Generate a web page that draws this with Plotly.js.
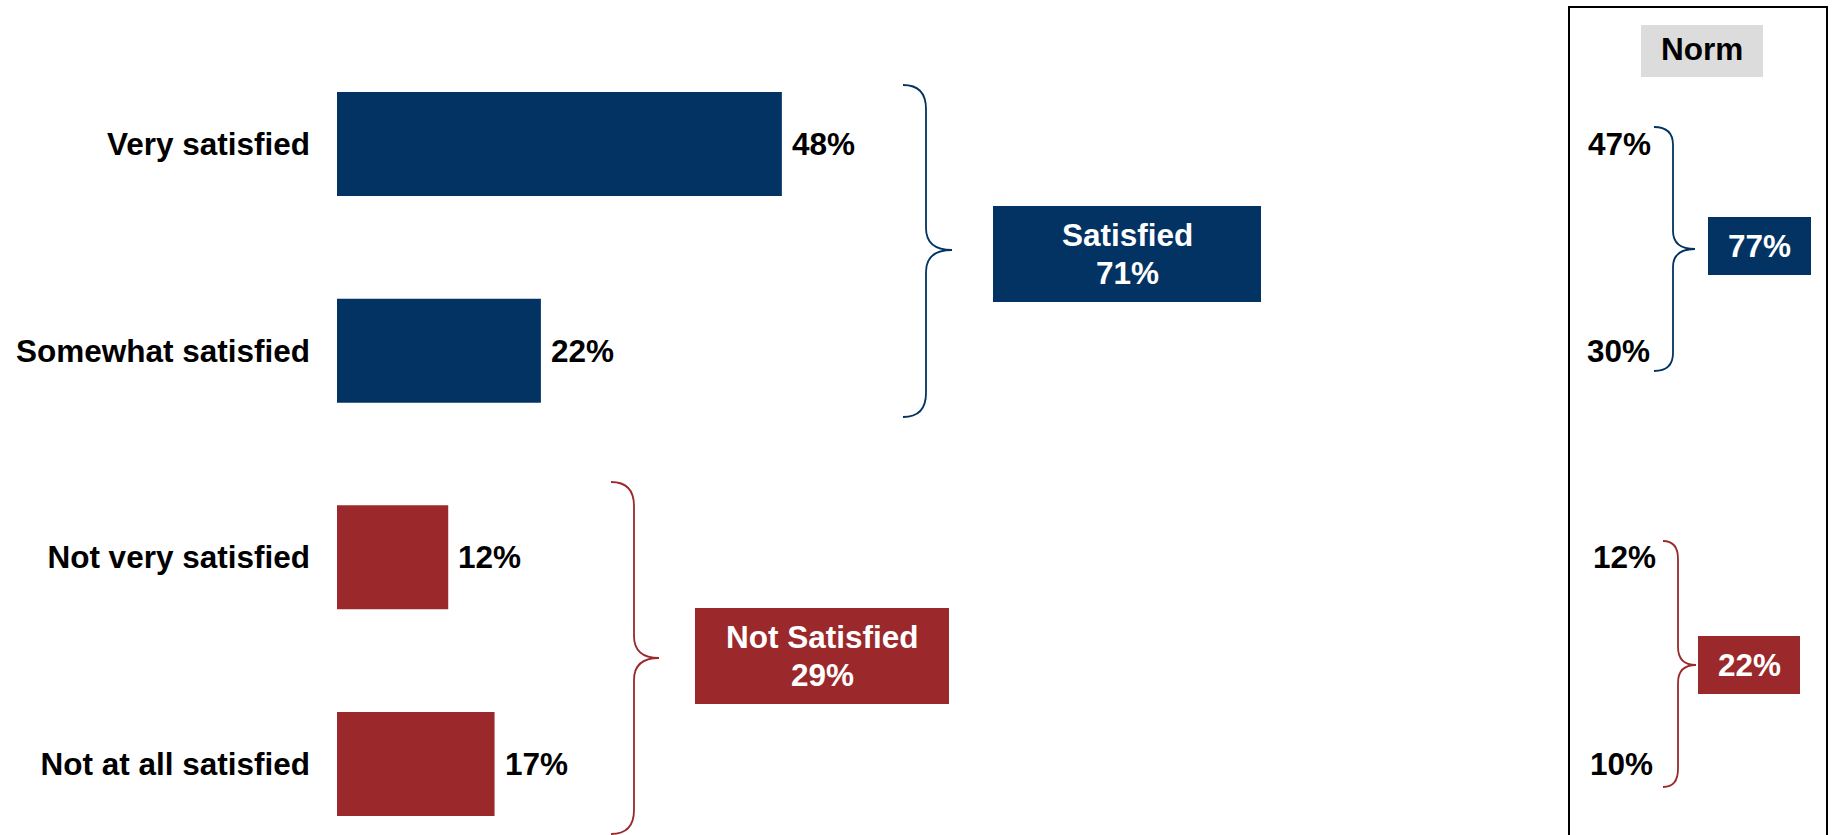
<!DOCTYPE html>
<html>
<head>
<meta charset="utf-8">
<script src="https://cdn.plot.ly/plotly-3.0.1.min.js"></script>
<style>html,body{margin:0;padding:0;background:#fff;}#chart{width:1833px;height:835px;}</style>
</head>
<body>
<div id="chart"></div>
<script>
// ---- data ----
const categories = ['Very satisfied', 'Somewhat satisfied', 'Not very satisfied', 'Not at all satisfied'];
const values = [48, 22, 12, 17];
const groupOf = [0, 0, 1, 1];
const groupNames = ['Satisfied', 'Not Satisfied'];
const groupTotals = [71, 29];
const normValues = [47, 30, 12, 10];
const normTotals = [77, 22];
const normLabel = 'Norm';

// ---- styles ----
const W = 1833, H = 835;
const BLUE = '#033363', RED = '#9B292B';
const palette = [BLUE, RED];
const FONT = 'Liberation Sans, Arial, Helvetica, sans-serif';
const FS = 31.5;
const L = 337;             // left margin (bar origin in px)
const PXPCT = 9.268;       // px per percent
const CY0 = 144, CS = 206.67; // first category centre / spacing (px)

// pixel -> paper helpers for decorations
const X = p => (p - L) / (W - L);
const Y = p => 1 - p / H;
const yIdx = p => (p - CY0) / CS;

function pt(p) { return X(p[0]).toFixed(5) + ',' + Y(p[1]).toFixed(5); }
function bracePath(x0, x1, x2, yT, yM, yB, r, rm) {
  return 'M' + pt([x0, yT]) +
    ' Q' + pt([x1, yT]) + ' ' + pt([x1, yT + r]) +
    ' L' + pt([x1, yM - rm]) +
    ' Q' + pt([x1, yM]) + ' ' + pt([x2, yM]) +
    ' Q' + pt([x1, yM]) + ' ' + pt([x1, yM + rm]) +
    ' L' + pt([x1, yB - r]) +
    ' Q' + pt([x1, yB]) + ' ' + pt([x0, yB]);
}
function rectShape(x0, y0, x1, y1, fill) {
  return {type: 'rect', xref: 'paper', yref: 'paper', x0: X(x0), x1: X(x1), y0: Y(y1), y1: Y(y0),
    fillcolor: fill, line: {width: 0}, layer: 'above'};
}
function txt(x, y, text, color, extra) {
  return Object.assign({xref: 'paper', yref: 'paper', x: X(x), y: Y(y), text: text, showarrow: false,
    xanchor: 'center', yanchor: 'middle',
    font: {family: FONT, size: FS, color: color, weight: 'bold'}}, extra || {});
}

const barColors = groupOf.map(g => palette[g]);

const trace = {
  type: 'bar', orientation: 'h',
  x: values, y: categories,
  marker: {color: barColors, line: {width: 0}},
  width: 0.503,
  hoverinfo: 'skip'
};

const shapes = [];
const annotations = [];

// value labels beside bars
values.forEach((v, i) => {
  annotations.push({xref: 'x', yref: 'y', x: v, y: categories[i], text: v + '%', showarrow: false,
    xanchor: 'left', yanchor: 'middle', xshift: 8,
    font: {family: FONT, size: FS, color: '#000', weight: 'bold'}});
});

// big braces
shapes.push({type: 'path', xref: 'paper', yref: 'paper', path: bracePath(903, 926, 952, 85, 250, 417, 24, 22),
  line: {color: BLUE, width: 1.8}});
shapes.push({type: 'path', xref: 'paper', yref: 'paper', path: bracePath(611, 634, 659, 482, 658, 834, 24, 22),
  line: {color: RED, width: 1.8}});

// group total boxes
shapes.push(rectShape(993, 206, 1261, 302, palette[0]));
annotations.push(txt(1127, 234.7, groupNames[0], '#fff'));
annotations.push(txt(1127, 273.3, groupTotals[0] + '%', '#fff'));
shapes.push(rectShape(695, 608, 949, 704, palette[1]));
annotations.push(txt(822, 636.7, groupNames[1], '#fff'));
annotations.push(txt(822, 674.7, groupTotals[1] + '%', '#fff'));

// norm panel
shapes.push({type: 'path', xref: 'paper', yref: 'paper',
  path: 'M' + pt([1569, 900]) + ' L' + pt([1569, 7]) + ' L' + pt([1827, 7]) + ' L' + pt([1827, 900]),
  line: {color: '#000', width: 2}});
shapes.push(rectShape(1641, 25, 1763, 77, '#DCDCDC'));
annotations.push(txt(1702, 49, normLabel, '#000'));

// norm values
const normRight = [1653, 1652, 1658, 1655];
normValues.forEach((v, i) => {
  annotations.push({xref: 'paper', yref: 'y', x: X(normRight[i]), y: categories[i], text: v + '%', showarrow: false,
    xanchor: 'right', yanchor: 'middle',
    font: {family: FONT, size: FS, color: '#000', weight: 'bold'}});
});

// small braces
shapes.push({type: 'path', xref: 'paper', yref: 'paper', path: bracePath(1654, 1673, 1695, 127, 249, 371, 18, 18),
  line: {color: BLUE, width: 1.8}});
shapes.push({type: 'path', xref: 'paper', yref: 'paper', path: bracePath(1663, 1678, 1696, 541, 665, 787, 18, 18),
  line: {color: RED, width: 1.8}});

// norm total boxes
shapes.push(rectShape(1708, 217, 1811, 275, palette[0]));
annotations.push(txt(1759.5, 246, normTotals[0] + '%', '#fff'));
shapes.push(rectShape(1698, 636, 1800, 694, palette[1]));
annotations.push(txt(1749, 665, normTotals[1] + '%', '#fff'));

const layout = {
  width: W, height: H,
  margin: {l: L, r: 0, t: 0, b: 0, pad: 0},
  paper_bgcolor: '#fff', plot_bgcolor: '#fff',
  showlegend: false,
  bargap: 0.5,
  xaxis: {range: [0, (W - L) / PXPCT], showgrid: false, zeroline: false, showline: false,
    showticklabels: false, ticks: '', fixedrange: true},
  yaxis: {type: 'category', categoryorder: 'array', categoryarray: categories,
    range: [yIdx(H), yIdx(0)], showgrid: false, zeroline: false, showline: false,
    ticks: '', ticklabelstandoff: 26,
    tickfont: {family: FONT, size: FS, color: '#000', weight: 'bold'}, fixedrange: true},
  shapes: shapes,
  annotations: annotations
};

Plotly.newPlot('chart', [trace], layout, {displayModeBar: false, staticPlot: true});
</script>
</body>
</html>
